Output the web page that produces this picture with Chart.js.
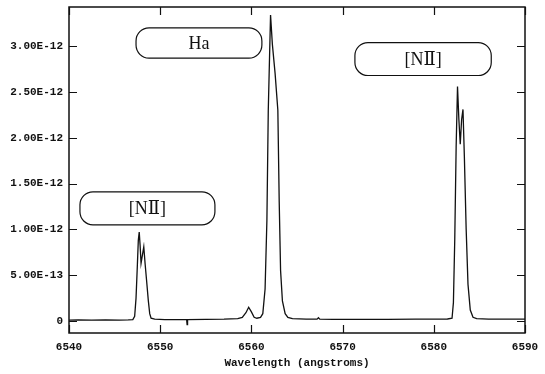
<!DOCTYPE html>
<html>
<head>
<meta charset="utf-8">
<script src="https://cdn.jsdelivr.net/npm/chart.js@4/dist/chart.umd.min.js"></script>
<style>
  html, body { margin: 0; padding: 0; background: #fff; }
  #wrap { width: 545px; height: 374px; position: relative; }
</style>
</head>
<body>
<div id="wrap"><canvas id="spec"></canvas></div>
<script>
// Emission-line spectrum around H-alpha and the [N II] doublet
const wavelength = [
  6540.0, 6541.0, 6542.5, 6544.0, 6545.5, 6546.5, 6547.0, 6547.2, 6547.35, 6547.5,
  6547.6, 6547.7, 6547.8, 6547.9, 6548.05, 6548.2, 6548.35, 6548.5, 6548.7, 6548.85,
  6549.0, 6549.4, 6550.5, 6552.0, 6552.9, 6552.95, 6553.0, 6555.0, 6557.0, 6558.5,
  6559.0, 6559.4, 6559.7, 6560.0, 6560.3, 6560.6, 6561.0, 6561.25, 6561.5, 6561.7,
  6561.85, 6562.1, 6562.3, 6562.6, 6562.9, 6563.05, 6563.2, 6563.4, 6563.7, 6564.0,
  6564.5, 6566.0, 6567.2, 6567.35, 6567.5, 6569.0, 6572.0, 6575.0, 6578.0, 6580.0,
  6581.5, 6582.0, 6582.15, 6582.3, 6582.45, 6582.6, 6582.75, 6582.9, 6583.05, 6583.2,
  6583.35, 6583.55, 6583.75, 6584.0, 6584.3, 6584.7, 6586.0, 6588.0, 6590.0
];
const flux = [
  0.010e-12, 0.012e-12, 0.010e-12, 0.012e-12, 0.010e-12, 0.012e-12, 0.015e-12, 0.05e-12, 0.25e-12, 0.62e-12,
  0.88e-12, 0.97e-12, 0.82e-12, 0.63e-12, 0.72e-12, 0.81e-12, 0.62e-12, 0.45e-12, 0.22e-12, 0.08e-12,
  0.03e-12, 0.02e-12, 0.015e-12, 0.015e-12, 0.015e-12, -0.04e-12, 0.015e-12, 0.018e-12, 0.02e-12, 0.025e-12,
  0.04e-12, 0.09e-12, 0.15e-12, 0.10e-12, 0.04e-12, 0.03e-12, 0.04e-12, 0.08e-12, 0.35e-12, 1.1e-12,
  2.3e-12, 3.34e-12, 3.02e-12, 2.7e-12, 2.3e-12, 1.3e-12, 0.55e-12, 0.22e-12, 0.08e-12, 0.04e-12,
  0.025e-12, 0.02e-12, 0.02e-12, 0.035e-12, 0.02e-12, 0.018e-12, 0.018e-12, 0.018e-12, 0.02e-12, 0.02e-12,
  0.022e-12, 0.03e-12, 0.2e-12, 0.9e-12, 1.9e-12, 2.56e-12, 2.2e-12, 1.93e-12, 2.2e-12, 2.31e-12,
  1.8e-12, 1.0e-12, 0.4e-12, 0.12e-12, 0.04e-12, 0.025e-12, 0.02e-12, 0.02e-12, 0.02e-12
];

const xTicks = [6540, 6550, 6560, 6570, 6580, 6590];
const yTicks = [0, 5e-13, 1e-12, 1.5e-12, 2e-12, 2.5e-12, 3e-12];
const yTickLabels = ['0', '5.00E-13', '1.00E-12', '1.50E-12', '2.00E-12', '2.50E-12', '3.00E-12'];

// Line identifications, boxed, placed in data units
const lineNames = ['Ha', '[NⅡ]', '[NⅡ]'];
const boxLeft   = [6547.35, 6571.35, 6541.2];
const boxRight  = [6561.15, 6586.3, 6556.0];
const boxTop    = [3.20e-12, 3.04e-12, 1.41e-12];
const boxBottom = [2.87e-12, 2.68e-12, 1.05e-12];

const INK = '#111';
const TICK = 8;

const frameAndLabels = {
  id: 'frameAndLabels',
  afterDraw(chart) {
    const { ctx, chartArea: a, scales: { x, y } } = chart;
    ctx.save();
    ctx.strokeStyle = INK;
    ctx.lineWidth = 1.5;
    ctx.strokeRect(a.left, a.top, a.right - a.left, a.bottom - a.top);

    // inward tick marks on all four sides
    ctx.lineWidth = 1.2;
    ctx.beginPath();
    xTicks.forEach(v => {
      const px = Math.round(x.getPixelForValue(v)) + 0.5;
      ctx.moveTo(px, a.bottom); ctx.lineTo(px, a.bottom - TICK);
      ctx.moveTo(px, a.top); ctx.lineTo(px, a.top + TICK);
    });
    yTicks.forEach(v => {
      const py = Math.round(y.getPixelForValue(v)) + 0.5;
      ctx.moveTo(a.left, py); ctx.lineTo(a.left + TICK, py);
      ctx.moveTo(a.right, py); ctx.lineTo(a.right - TICK, py);
    });
    ctx.stroke();

    // rounded label boxes
    ctx.font = '18px "Liberation Serif", "DejaVu Serif", serif';
    ctx.textAlign = 'center';
    ctx.textBaseline = 'middle';
    ctx.fillStyle = INK;
    lineNames.forEach((name, i) => {
      const l = x.getPixelForValue(boxLeft[i]);
      const r = x.getPixelForValue(boxRight[i]);
      const t = y.getPixelForValue(boxTop[i]);
      const b = y.getPixelForValue(boxBottom[i]);
      ctx.beginPath();
      ctx.roundRect(l, t, r - l, b - t, 13);
      ctx.lineWidth = 1.2;
      ctx.stroke();
      ctx.fillText(name, (l + r) / 2, (t + b) / 2 + 1);
    });
    ctx.restore();
  }
};

const monoBold = { family: '"Liberation Mono", "DejaVu Sans Mono", monospace', size: 11, weight: 'bold' };

new Chart(document.getElementById('spec'), {
  type: 'line',
  data: {
    datasets: [{
      data: wavelength.map((w, i) => ({ x: w, y: flux[i] })),
      borderColor: INK,
      borderWidth: 1.3,
      pointRadius: 0,
      pointHoverRadius: 0,
      tension: 0,
      fill: false
    }]
  },
  options: {
    responsive: true,
    maintainAspectRatio: false,
    animation: false,
    events: [],
    layout: { autoPadding: false, padding: { left: 0, top: 7, right: 20, bottom: 0 } },
    plugins: { legend: { display: false }, tooltip: { enabled: false } },
    scales: {
      x: {
        type: 'linear',
        min: 6540,
        max: 6590,
        afterBuildTicks: s => { s.ticks = xTicks.map(v => ({ value: v })); },
        afterFit: s => { s.height = 41; s.paddingLeft = 0; s.paddingRight = 0; },
        grid: { display: false, drawTicks: false },
        border: { display: false },
        ticks: { color: INK, font: monoBold, padding: 8, maxRotation: 0, callback: v => String(v) },
        title: { display: true, text: 'Wavelength (angstroms)', color: INK, font: monoBold, padding: { top: 0, bottom: 4 } }
      },
      y: {
        type: 'linear',
        min: -0.131e-12,
        max: 3.428e-12,
        afterBuildTicks: s => { s.ticks = yTicks.map(v => ({ value: v })); },
        afterFit: s => { s.width = 69; s.paddingTop = 0; s.paddingBottom = 0; },
        grid: { display: false, drawTicks: false },
        border: { display: false },
        ticks: {
          color: INK, font: monoBold, padding: 6,
          callback: (v) => { const k = yTicks.findIndex(t => Math.abs(t - v) < 1e-16); return k >= 0 ? yTickLabels[k] : ''; }
        }
      }
    }
  },
  plugins: [frameAndLabels]
});
</script>
</body>
</html>
